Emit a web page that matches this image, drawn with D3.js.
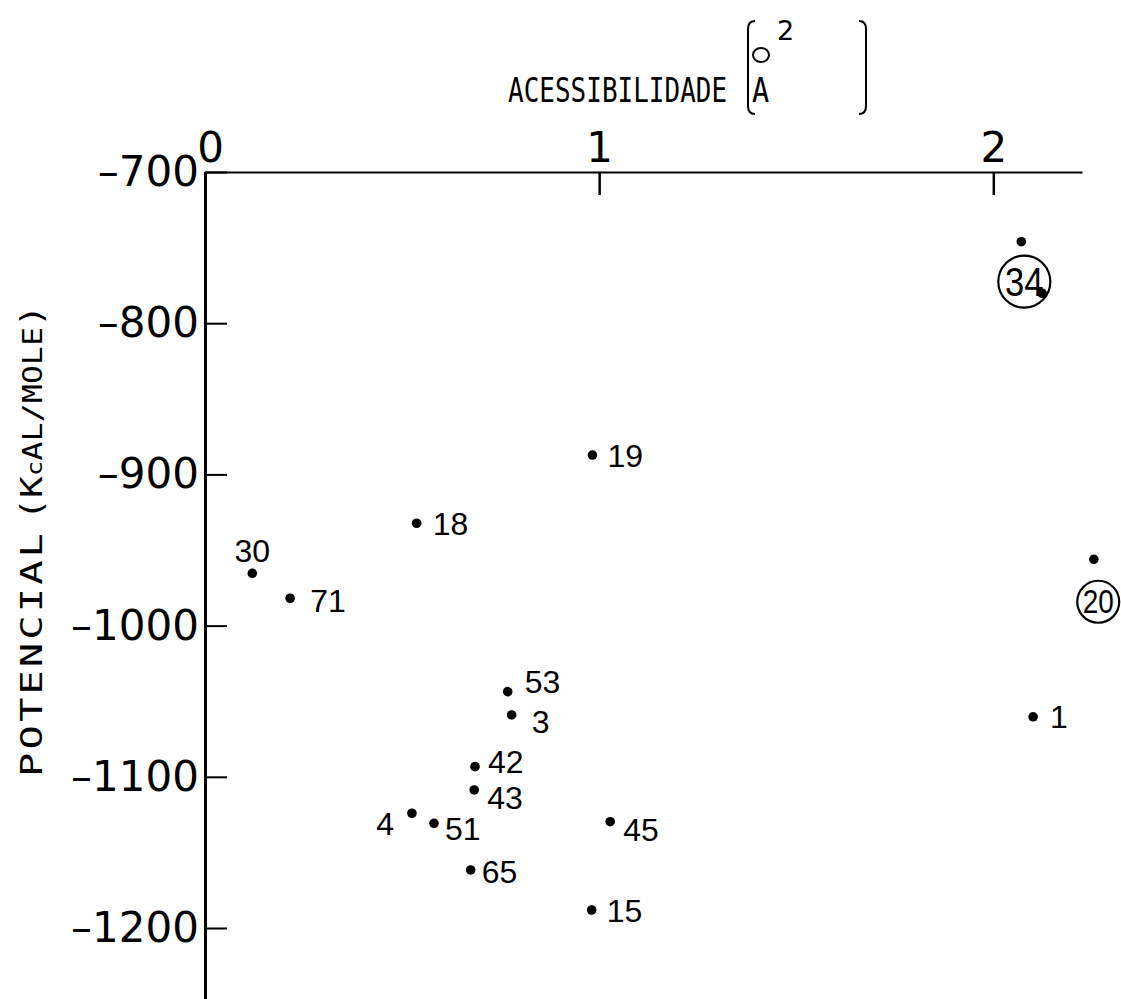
<!DOCTYPE html>
<html>
<head>
<meta charset="utf-8">
<script src="https://cdn.jsdelivr.net/npm/d3@7"></script>
<style>
  html, body { margin: 0; padding: 0; background: #fff; }
  svg { display: block; }
</style>
</head>
<body>
<script>
// ---- data ----
const pointIds      = ["30", "71", "18", "19", "53", "3", "42", "43", "4", "51", "45", "65", "15", "34", "", "20", "1"];
const accessibility = [0.120, 0.216, 0.537, 0.983, 0.768, 0.778, 0.685, 0.683, 0.525, 0.581, 1.028, 0.674, 0.981, 2.071, 2.124, 2.255, 2.101];
const potential     = [-965.4, -981.9, -932.3, -887.2, -1043.7, -1059.1, -1093.3, -1108.7, -1124.1, -1130.8, -1129.7, -1161.6, -1188.1, -746.1, -780.2, -956.2, -1060.3];
const circledIds    = ["34", "20"];
const xTickValues   = [0, 1, 2];
const yTickValues   = [-700, -800, -900, -1000, -1100, -1200];
const xTitle        = "ACESSIBILIDADE";
const yTitleMain    = "POTENCIAL";
const yTitleUnit    = ["(K", "c", "AL/MOLE", ")"];

// ---- label placement (layout only) ----
const labelOffsets = {
  "30": [0, -23, "middle"], "71": [20, 2, "start"], "18": [16, 0, "start"], "19": [15, 0, "start"],
  "53": [17, -10, "start"], "3": [20, 7, "start"], "42": [13, -5, "start"], "43": [13, 8, "start"],
  "4": [-18, 10, "end"], "51": [11, 5, "start"], "45": [13, 8, "start"], "65": [11, 2, "start"],
  "15": [15, 0, "start"], "1": [17, 0, "start"],
  "34": [3, 40, "circle", 26], "20": [4.4, 42.4, "circle", 21]
};

const W = 1121, H = 999;
const svg = d3.select("body").append("svg").attr("width", W).attr("height", H);

const x = d3.scaleLinear().domain([0, 2.225]).range([205, 1082]);
const y = d3.scaleLinear().domain([-700, -1250]).range([172, 1003.6]);

// x axis (top)
const gx = svg.append("g").attr("transform", `translate(0,${y(-700)})`)
  .call(d3.axisTop(x).tickValues(xTickValues).tickSize(-23).tickSizeOuter(0).tickPadding(10).tickFormat(d3.format("d")));
gx.select(".domain").attr("stroke", "#000").attr("stroke-width", 2);
gx.selectAll(".tick line").attr("stroke", "#000").attr("stroke-width", 2.5);
gx.selectAll(".tick text").attr("font-family", "DejaVu Sans").attr("font-size", 42).attr("fill", "#000")
  .attr("dx", d => d === 0 ? 5 : 0);

// y axis (left)
const gy = svg.append("g").attr("transform", `translate(${x(0)},0)`)
  .call(d3.axisLeft(y).tickValues(yTickValues).tickSize(-22).tickSizeOuter(0).tickPadding(6).tickFormat(d => "\u2013" + Math.abs(d)));
gy.select(".domain").attr("stroke", "#000").attr("stroke-width", 3);
gy.selectAll(".tick line").attr("stroke", "#000").attr("stroke-width", 2);
gy.selectAll(".tick text").attr("font-family", "DejaVu Sans").attr("font-size", 42).attr("fill", "#000");

// x title (condensed via vertical stretch)
svg.append("text").attr("transform", "translate(508,102) scale(1,1.32)")
  .attr("font-family", "DejaVu Sans Mono").attr("font-size", 26).text(xTitle);
// unit bracket  (Å^2)
svg.append("path").attr("d", "M755,21 Q748,21 748,29 L748,106 Q748,114 755,114")
  .attr("fill", "none").attr("stroke", "#000").attr("stroke-width", 2);
svg.append("path").attr("d", "M859,21 Q866,21 866,29 L866,106 Q866,114 859,114")
  .attr("fill", "none").attr("stroke", "#000").attr("stroke-width", 2);
svg.append("ellipse").attr("cx", 761).attr("cy", 55).attr("rx", 8).attr("ry", 7)
  .attr("fill", "none").attr("stroke", "#000").attr("stroke-width", 2);
svg.append("text").attr("x", 777).attr("y", 40).attr("font-family", "DejaVu Sans").attr("font-size", 27).text("2");
svg.append("text").attr("transform", "translate(752,102) scale(1.1,1.32)")
  .attr("font-family", "DejaVu Sans Mono").attr("font-size", 26).text("A");

// y title
svg.append("text")
  .attr("transform", "translate(42,777) rotate(-90) scale(1.35,1)")
  .attr("font-family", "DejaVu Sans Mono").attr("font-size", 30)
  .attr("textLength", 244 / 1.35).attr("lengthAdjust", "spacing").text(yTitleMain);
const yt = svg.append("text")
  .attr("transform", "translate(42,520) rotate(-90) scale(1.2,1)")
  .attr("font-family", "DejaVu Sans Mono").attr("textLength", 215 / 1.2).attr("lengthAdjust", "spacing");
const ySizes = [30, 21, 26, 30];
yTitleUnit.forEach((t, i) => yt.append("tspan").attr("font-size", ySizes[i]).text(t));

// points
const pts = pointIds.map((id, i) => ({ id, xv: accessibility[i], yv: potential[i] }));
svg.append("g").selectAll("circle").data(pts).join("circle")
  .attr("cx", d => x(d.xv)).attr("cy", d => y(d.yv)).attr("r", 4.8).attr("fill", "#000");

// plain labels
const plain = pts.filter(d => d.id && !circledIds.includes(d.id));
svg.append("g").selectAll("text").data(plain).join("text")
  .attr("x", d => x(d.xv) + labelOffsets[d.id][0])
  .attr("y", d => y(d.yv) + labelOffsets[d.id][1])
  .attr("dy", "0.36em")
  .attr("text-anchor", d => labelOffsets[d.id][2])
  .attr("font-family", "Liberation Sans").attr("font-size", 32).attr("fill", "#000")
  .text(d => d.id);

// circled labels
const circ = pts.filter(d => circledIds.includes(d.id));
const cg = svg.append("g").selectAll("g").data(circ).join("g")
  .attr("transform", d => `translate(${x(d.xv) + labelOffsets[d.id][0]},${y(d.yv) + labelOffsets[d.id][1]})`);
cg.append("circle").attr("r", d => labelOffsets[d.id][3])
  .attr("fill", "none").attr("stroke", "#000").attr("stroke-width", 2.2);
cg.append("text")
  .attr("text-anchor", "middle")
  .attr("dy", "0.36em")
  .attr("font-family", "Liberation Sans")
  .attr("font-size", d => labelOffsets[d.id][3] * 1.4)
  .attr("transform", "scale(0.95,1.1)")
  .text(d => d.id);
</script>
</body>
</html>
